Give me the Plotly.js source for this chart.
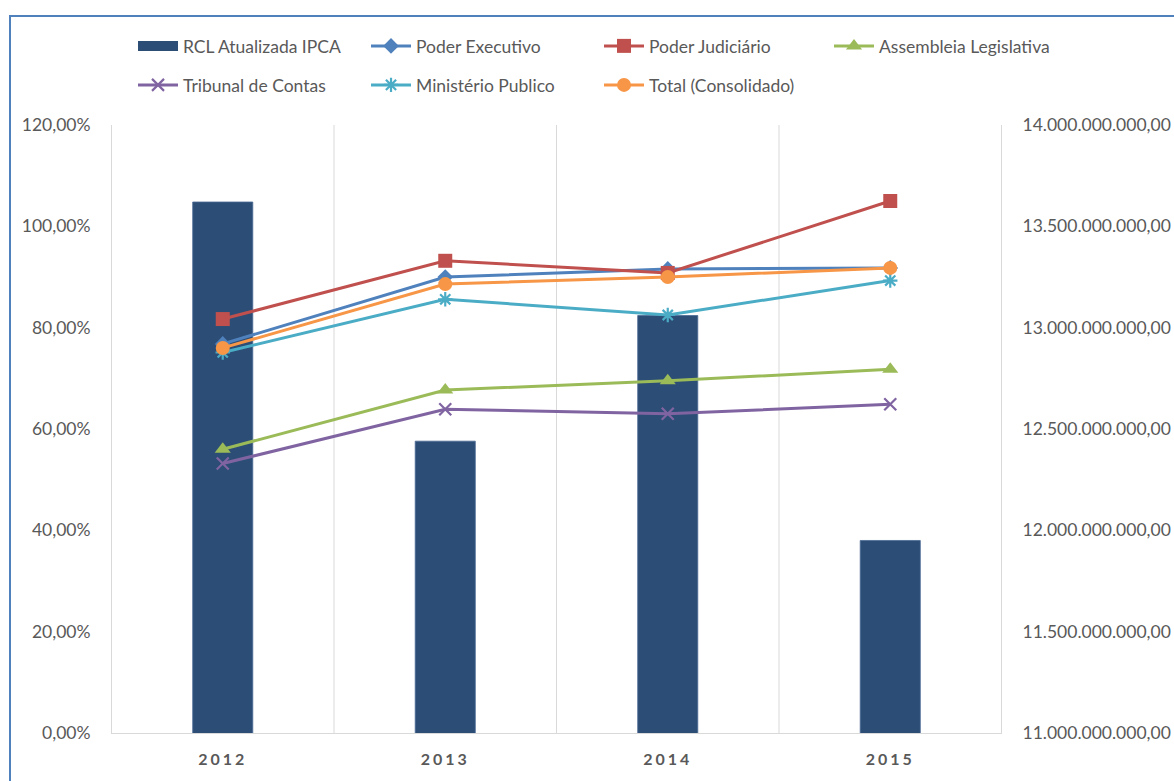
<!DOCTYPE html>
<html>
<head>
<meta charset="utf-8">
<script src="https://cdn.plot.ly/plotly-3.0.1.min.js"></script>
<style>
html,body{margin:0;padding:0;background:#fff;overflow:hidden;}
#chart{position:absolute;left:0;top:0;width:1174px;height:781px;}
#frame{position:absolute;left:9px;top:15px;width:1200px;height:800px;border:2px solid #4f81bd;pointer-events:none;}
.xtick text{letter-spacing:3px;}
</style>
</head>
<body>
<div id="chart"></div>
<div id="frame"></div>
<script>
const years = ['2012', '2013', '2014', '2015'];
const rcl = [13620000000, 12440000000, 13060000000, 11950000000];
const executivo = [76.8, 90.0, 91.6, 91.8];
const judiciario = [81.7, 93.2, 90.8, 105.0];
const assembleia = [56.0, 67.7, 69.5, 71.8];
const tribunal = [53.2, 63.9, 63.0, 64.9];
const ministerio = [75.1, 85.6, 82.5, 89.3];
const total = [76.0, 88.6, 90.0, 91.8];

const fontFam = 'Lato, "Open Sans", sans-serif';
const txt = '#595959';

function line(name, y, color, symbol, size, leg) {
  return {
    type: 'scatter', mode: 'lines+markers', name: name, x: years, y: y,
    yaxis: 'y2', legend: leg,
    line: {color: color, width: 3},
    marker: {color: color, symbol: symbol, size: size,
             line: {color: color, width: (symbol.indexOf('x') === 0 || symbol.indexOf('asterisk') === 0) ? 2.2 : 0}}
  };
}

const traces = [
  {type: 'bar', name: 'RCL Atualizada IPCA', x: years, y: rcl, yaxis: 'y',
   marker: {color: '#2c4d75', line: {color: '#4a6a94', width: 0.8}}, showlegend: false},
  {type: 'scatter', mode: 'lines', name: 'RCL Atualizada IPCA', x: [null], y: [null], yaxis: 'y',
   legend: 'legend', line: {color: '#2c4d75', width: 14}, hoverinfo: 'skip'},
  line('Poder Executivo', executivo, '#4f81bd', 'diamond', 12, 'legend'),
  line('Poder Judiciário', judiciario, '#c0504d', 'square', 14, 'legend'),
  line('Assembleia Legislativa', assembleia, '#9bbb59', 'triangle-up', 14, 'legend3'),
  line('Tribunal de Contas', tribunal, '#8064a2', 'x-thin-open', 12, 'legend2'),
  line('Ministério Publico', ministerio, '#4bacc6', 'asterisk-open', 12, 'legend2'),
  line('Total (Consolidado)', total, '#f79646', 'circle', 14, 'legend2')
];

const legBase = {orientation: 'h', xref: 'container', yref: 'container', x: 0.1133, xanchor: 'left', yanchor: 'top',
                 entrywidth: 178, entrywidthmode: 'pixels',
                 font: {family: fontFam, size: 17.5, color: txt},
                 itemwidth: 40, traceorder: 'normal', bgcolor: 'rgba(0,0,0,0)'};

const layout = {
  width: 1174, height: 781,
  margin: {l: 111, r: 172, t: 125, b: 48, pad: 0},
  paper_bgcolor: '#ffffff', plot_bgcolor: '#ffffff',
  separators: ',.',
  font: {family: fontFam, size: 17, color: txt},
  bargap: 0.73,
  showlegend: true,
  legend: Object.assign({}, legBase, {y: 1 - 28 / 781}),
  legend2: Object.assign({}, legBase, {y: 1 - 67 / 781}),
  legend3: Object.assign({}, legBase, {y: 1 - 28 / 781, x: 829 / 1174}),
  xaxis: {type: 'category', showgrid: false, showline: true, linecolor: '#d9d9d9', linewidth: 1,
          ticks: 'outside', ticklen: 12, tickcolor: 'rgba(0,0,0,0)',
          tickfont: {family: fontFam, size: 16, color: txt, weight: 'bold'}, zeroline: false},
  yaxis: {side: 'right', range: [11000000000, 14000000000], dtick: 500000000, tick0: 11000000000,
          tickformat: ',.2f', showgrid: false, zeroline: false, showline: false,
          ticks: 'outside', ticklen: 16, tickcolor: 'rgba(0,0,0,0)',
          tickfont: {family: fontFam, size: 17.5, color: txt}},
  yaxis2: {overlaying: 'y', side: 'left', range: [0, 120], dtick: 20, tick0: 0,
           tickformat: '.2f', ticksuffix: '%', showgrid: false, zeroline: false, showline: false,
           ticks: 'outside', ticklen: 16, tickcolor: 'rgba(0,0,0,0)',
           tickfont: {family: fontFam, size: 17.5, color: txt}},
  shapes: [0, 1, 2, 3, 4].map(function (i) {
    return {type: 'line', xref: 'x', yref: 'paper', x0: i - 0.5, x1: i - 0.5, y0: 0, y1: 1,
            line: {color: '#d9d9d9', width: 1}, layer: 'below'};
  })
};

Plotly.newPlot('chart', traces, layout, {displayModeBar: false, staticPlot: true});
</script>
</body>
</html>
